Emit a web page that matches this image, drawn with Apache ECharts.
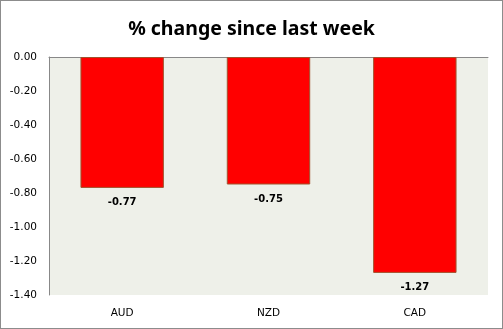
<!DOCTYPE html>
<html><head><meta charset="utf-8">
<script src="https://cdn.jsdelivr.net/npm/echarts@6/dist/echarts.min.js"></script>
<style>html,body{margin:0;padding:0;background:#fff}#c{width:503px;height:329px;box-sizing:border-box;border:1px solid #8c8c8c}</style>
</head><body><div id="c"></div>
<script>
var categories = ['AUD', 'NZD', 'CAD'];
var values = [-0.77, -0.75, -1.27];
var titleText = '% change since last week';

var chart = echarts.init(document.getElementById('c'));
chart.setOption({
  animation: false,
  title: {text: titleText, left: 'center', top: 13,
    textStyle: {fontFamily: 'Noto Sans', fontSize: 19.5, fontWeight: 'bold', color: '#000'}},
  grid: {left: 48, right: 14, top: 56, bottom: 33, show: true, backgroundColor: '#EEF0E9', borderWidth: 0},
  xAxis: {type: 'category', data: categories, position: 'top',
    axisLine: {show: true, lineStyle: {color: '#888', width: 1}},
    axisTick: {show: false},
    axisLabel: {show: false}},
  yAxis: {type: 'value', min: -1.4, max: 0, interval: 0.2,
    axisLine: {show: true, lineStyle: {color: '#888'}},
    axisTick: {show: false},
    splitLine: {show: false},
    axisLabel: {formatter: function(v){return v.toFixed(2);}, fontFamily: 'DejaVu Sans', fontSize: 10.5, color: '#000', margin: 12}},
  series: [{type: 'bar', data: values, barWidth: '57%',
    itemStyle: {color: '#FF0000', borderColor: '#A0522D', borderWidth: 1},
    label: {show: true, position: 'bottom', distance: 10, formatter: function(p){return p.value.toFixed(2);},
      fontFamily: 'DejaVu Sans', fontSize: 10, fontWeight: 'bold', color: '#000'}}]
});
var g = [];
categories.forEach(function(c, i){
  var p = chart.convertToPixel({xAxisIndex: 0, yAxisIndex: 0}, [i, -1.4]);
  g.push({type: 'text', x: p[0], y: p[1] + 13, style: {text: c, textAlign: 'center', font: '10.5px DejaVu Sans', fill: '#000'}});
});
chart.setOption({graphic: g});
</script></body></html>
